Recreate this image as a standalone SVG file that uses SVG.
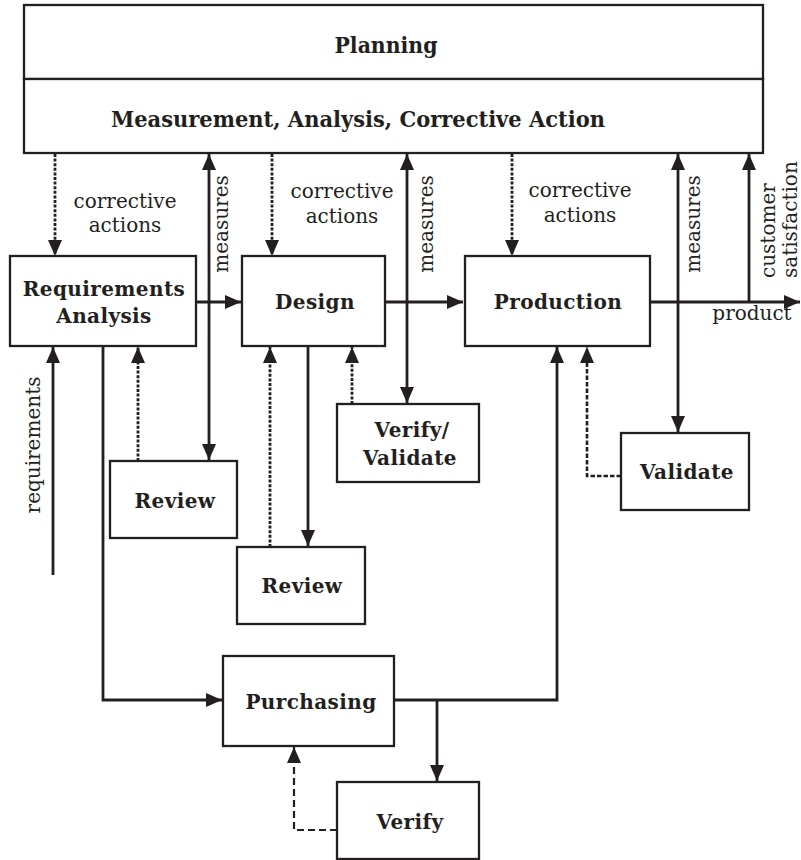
<svg xmlns="http://www.w3.org/2000/svg" width="801" height="860" viewBox="0 0 801 860">
  <defs>
    <marker id="arrow" markerUnits="userSpaceOnUse" markerWidth="17" markerHeight="15" refX="16" refY="7.5" orient="auto-start-reverse">
      <path d="M0,0.5 L16,7.5 L0,14.5 z" fill="#231f20"/>
    </marker>
    <style>
      .box { fill: #fff; stroke: #231f20; stroke-width: 2.3; }
      .flow { fill: none; stroke: #231f20; stroke-width: 2.8; }
      .dot { fill: none; stroke: #231f20; stroke-width: 2.8; stroke-dasharray: 3 1.6; }
      .short { fill: none; stroke: #231f20; stroke-width: 2.6; stroke-dasharray: 4.5 2; }
      .dash { fill: none; stroke: #231f20; stroke-width: 2.2; stroke-dasharray: 7 4; }
      .title { font-family: "DejaVu Serif Condensed", "DejaVu Serif", serif; font-weight: bold; font-size: 22px; fill: #231f20; text-anchor: middle; }
      .label { font-family: "DejaVu Serif", serif; font-weight: bold; font-size: 20px; letter-spacing: 0.4px; fill: #231f20; text-anchor: middle; }
      .note { font-family: "DejaVu Serif", serif; font-size: 20px; fill: #231f20; text-anchor: middle; }
    </style>
  </defs>

  <!-- planning and measurement band -->
  <g id="planning">
    <rect class="box" x="24" y="5" width="739" height="74"/>
    <text class="title" x="386" y="53" textLength="103" lengthAdjust="spacingAndGlyphs">Planning</text>
  </g>
  <g id="measurement">
    <rect class="box" x="24" y="79" width="739" height="74"/>
    <text class="title" x="358" y="127" textLength="494" lengthAdjust="spacingAndGlyphs">Measurement, Analysis, Corrective Action</text>
  </g>

  <!-- process boxes -->
  <g id="requirements-analysis">
    <rect class="box" x="10" y="256" width="186" height="90"/>
    <text class="label" x="104" y="296">Requirements</text>
    <text class="label" x="104" y="323">Analysis</text>
  </g>
  <g id="design">
    <rect class="box" x="242" y="256" width="143" height="90"/>
    <text class="label" x="315" y="309">Design</text>
  </g>
  <g id="production">
    <rect class="box" x="465" y="256" width="185" height="90"/>
    <text class="label" x="558" y="309">Production</text>
  </g>
  <g id="review-requirements">
    <rect class="box" x="110" y="461" width="127" height="77"/>
    <text class="label" x="175" y="508">Review</text>
  </g>
  <g id="review-design">
    <rect class="box" x="237" y="547" width="128" height="77"/>
    <text class="label" x="302" y="593">Review</text>
  </g>
  <g id="verify-validate">
    <rect class="box" x="337" y="404" width="142" height="78"/>
    <text class="label" x="412" y="437">Verify/</text>
    <text class="label" x="410" y="465">Validate</text>
  </g>
  <g id="validate">
    <rect class="box" x="621" y="433" width="128" height="77"/>
    <text class="label" x="687" y="479">Validate</text>
  </g>
  <g id="purchasing">
    <rect class="box" x="223" y="656" width="171" height="90"/>
    <text class="label" x="311" y="709">Purchasing</text>
  </g>
  <g id="verify">
    <rect class="box" x="337" y="782" width="142" height="77"/>
    <text class="label" x="410" y="829">Verify</text>
  </g>

  <!-- connectors -->
  <g id="connectors">
    <!-- corrective actions coming down from the band -->
    <path class="dot" d="M55,154 V256" marker-end="url(#arrow)"/>
    <path class="dot" d="M272,154 V256" marker-end="url(#arrow)"/>
    <path class="dot" d="M512,154 V256" marker-end="url(#arrow)"/>
    <!-- measures, both ways -->
    <path class="flow" d="M209,460 V154" marker-start="url(#arrow)" marker-end="url(#arrow)"/>
    <path class="flow" d="M407,403 V154" marker-start="url(#arrow)" marker-end="url(#arrow)"/>
    <path class="flow" d="M678,432 V154" marker-start="url(#arrow)" marker-end="url(#arrow)"/>
    <!-- customer satisfaction and product -->
    <path class="flow" d="M749,302 V154" marker-end="url(#arrow)"/>
    <path class="flow" d="M650,302 H800" marker-end="url(#arrow)"/>
    <!-- main flow -->
    <path class="flow" d="M196,302 H241" marker-end="url(#arrow)"/>
    <path class="flow" d="M385,302 H463" marker-end="url(#arrow)"/>
    <path class="flow" d="M53,575 V347" marker-end="url(#arrow)"/>
    <path class="flow" d="M103,346 V700 H222" marker-end="url(#arrow)"/>
    <path class="flow" d="M308,346 V546" marker-end="url(#arrow)"/>
    <path class="flow" d="M394,700 H557 V347" marker-end="url(#arrow)"/>
    <path class="flow" d="M437,700 V781" marker-end="url(#arrow)"/>
    <!-- review / verification feedback -->
    <path class="dot" d="M138,461 V347" marker-end="url(#arrow)"/>
    <path class="dot" d="M270,547 V347" marker-end="url(#arrow)"/>
    <path class="dot" d="M352,404 V347" marker-end="url(#arrow)"/>
    <path class="short" d="M621,476 H587 V347" marker-end="url(#arrow)"/>
    <path class="dash" d="M337,830 H294 V747" marker-end="url(#arrow)"/>

    <!-- connector labels -->
    <text class="note" x="125" y="208">corrective</text>
    <text class="note" x="125" y="232">actions</text>
    <text class="note" x="342" y="198">corrective</text>
    <text class="note" x="342" y="223">actions</text>
    <text class="note" x="580" y="197">corrective</text>
    <text class="note" x="580" y="222">actions</text>
    <text class="note" transform="translate(228,224) rotate(-90)">measures</text>
    <text class="note" transform="translate(433,224) rotate(-90)">measures</text>
    <text class="note" transform="translate(700,224) rotate(-90)">measures</text>
    <text class="note" style="text-anchor:start" transform="translate(775,278) rotate(-90)">customer</text>
    <text class="note" style="text-anchor:start" transform="translate(797,278) rotate(-90)">satisfaction</text>
    <text class="note" transform="translate(40,445) rotate(-90)">requirements</text>
    <text class="note" x="752" y="320">product</text>
  </g>
</svg>
